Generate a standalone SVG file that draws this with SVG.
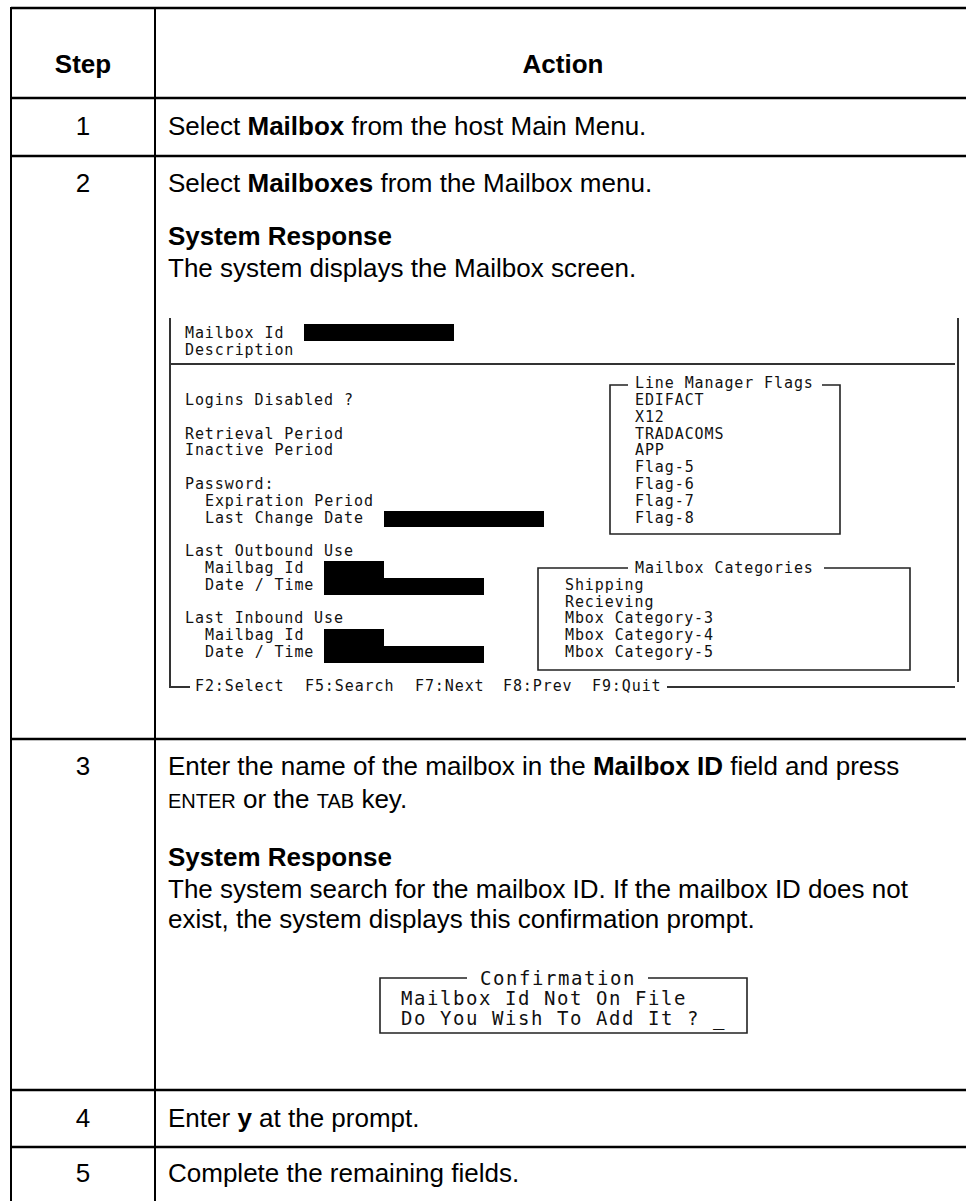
<svg xmlns="http://www.w3.org/2000/svg" width="966" height="1201" viewBox="0 0 966 1201">
<style>
.t{font-family:"Liberation Sans",Arial,sans-serif;font-size:26px;fill:#000}
.b{font-weight:bold}
.c{text-anchor:middle}
.sc{font-size:20px}
.m{font-family:"DejaVu Sans Mono",monospace;font-size:15px;letter-spacing:0.9px;fill:#111}
.cm{font-family:"DejaVu Sans Mono",monospace;font-size:19px;letter-spacing:1.56px;fill:#111}
.grid{stroke:#000;stroke-width:2.5;fill:none}
.vgrid{stroke:#000;stroke-width:2;fill:none}
.scr{stroke:#333;stroke-width:2;fill:none}
.frm{stroke:#222;stroke-width:1.6;fill:none}
.blk{fill:#000}
</style>
<rect width="966" height="1201" fill="#fff"/>
<g id="table">
<path class="grid" d="M11 8H966M11 98H966M11 156H966M11 739H966M11 1090H966M11 1147H966"/>
<path class="vgrid" d="M11 7V1201M155 7V1201"/>
</g>
<g id="header">
<text class="t b c" x="83" y="73">Step</text>
<text class="t b c" x="563" y="73">Action</text>
</g>
<g id="step1">
<text class="t c" x="83" y="135">1</text>
<text class="t" x="168" y="135">Select <tspan class="b">Mailbox</tspan> from the host Main Menu.</text>
</g>
<g id="step2">
<text class="t c" x="83" y="192">2</text>
<text class="t" x="168" y="192">Select <tspan class="b">Mailboxes</tspan> from the Mailbox menu.</text>
<text class="t b" x="168" y="245">System Response</text>
<text class="t" x="168" y="277">The system displays the Mailbox screen.</text>
</g>
<g id="mailbox-screen">
<path class="scr" d="M170 318V687H190M958 318V682M170 364H955M667 687H955"/>
<rect class="blk" x="304" y="324" width="150" height="17"/>
<rect class="blk" x="384" y="511" width="160" height="16"/>
<path class="blk" d="M324 561H384V578H484V595H324Z"/>
<path class="blk" d="M324 629H384V646H484V663H324Z"/>
<text class="m" x="185" y="337.8">Mailbox Id</text>
<text class="m" x="185" y="354.6">Description</text>
<text class="m" x="185" y="405">Logins Disabled ?</text>
<text class="m" x="185" y="438.6">Retrieval Period</text>
<text class="m" x="185" y="455.4">Inactive Period</text>
<text class="m" x="185" y="489">Password:</text>
<text class="m" x="205" y="505.8">Expiration Period</text>
<text class="m" x="205" y="522.6">Last Change Date</text>
<text class="m" x="185" y="556.2">Last Outbound Use</text>
<text class="m" x="205" y="573">Mailbag Id</text>
<text class="m" x="205" y="589.8">Date / Time</text>
<text class="m" x="185" y="623.4">Last Inbound Use</text>
<text class="m" x="205" y="640.2">Mailbag Id</text>
<text class="m" x="205" y="657">Date / Time</text>
<text class="m" x="195" y="690.6">F2:Select</text>
<text class="m" x="305" y="690.6">F5:Search</text>
<text class="m" x="415" y="690.6">F7:Next</text>
<text class="m" x="503" y="690.6">F8:Prev</text>
<text class="m" x="592" y="690.6">F9:Quit</text>
<path class="frm" d="M628 385H610V534H840V385H822"/>
<text class="m" x="635" y="388.2">Line Manager Flags</text>
<text class="m" x="635" y="405">EDIFACT</text>
<text class="m" x="635" y="421.8">X12</text>
<text class="m" x="635" y="438.6">TRADACOMS</text>
<text class="m" x="635" y="455.4">APP</text>
<text class="m" x="635" y="472.2">Flag-5</text>
<text class="m" x="635" y="489">Flag-6</text>
<text class="m" x="635" y="505.8">Flag-7</text>
<text class="m" x="635" y="522.6">Flag-8</text>
<path class="frm" d="M628 568H538V670H910V568H824"/>
<text class="m" x="635" y="573">Mailbox Categories</text>
<text class="m" x="565" y="589.8">Shipping</text>
<text class="m" x="565" y="606.6">Recieving</text>
<text class="m" x="565" y="623.4">Mbox Category-3</text>
<text class="m" x="565" y="640.2">Mbox Category-4</text>
<text class="m" x="565" y="657">Mbox Category-5</text>
</g>
<g id="step3">
<text class="t c" x="83" y="775">3</text>
<text class="t" x="168" y="775">Enter the name of the mailbox in the <tspan class="b">Mailbox ID</tspan> field and press</text>
<text class="t" x="168" y="808"><tspan class="sc">ENTER</tspan> or the <tspan class="sc">TAB</tspan> key.</text>
<text class="t b" x="168" y="866">System Response</text>
<text class="t" x="168" y="898">The system search for the mailbox ID. If the mailbox ID does not</text>
<text class="t" x="168" y="928">exist, the system displays this confirmation prompt.</text>
</g>
<g id="confirmation">
<path class="frm" d="M467 978H380V1033H747V978H648"/>
<text class="cm" x="480" y="985">Confirmation</text>
<text class="cm" x="401" y="1005">Mailbox Id Not On File</text>
<text class="cm" x="401" y="1025">Do You Wish To Add It ? _</text>
</g>
<g id="step4">
<text class="t c" x="83" y="1127">4</text>
<text class="t" x="168" y="1127">Enter <tspan class="b">y</tspan> at the prompt.</text>
</g>
<g id="step5">
<text class="t c" x="83" y="1182">5</text>
<text class="t" x="168" y="1182">Complete the remaining fields.</text>
</g>
</svg>
